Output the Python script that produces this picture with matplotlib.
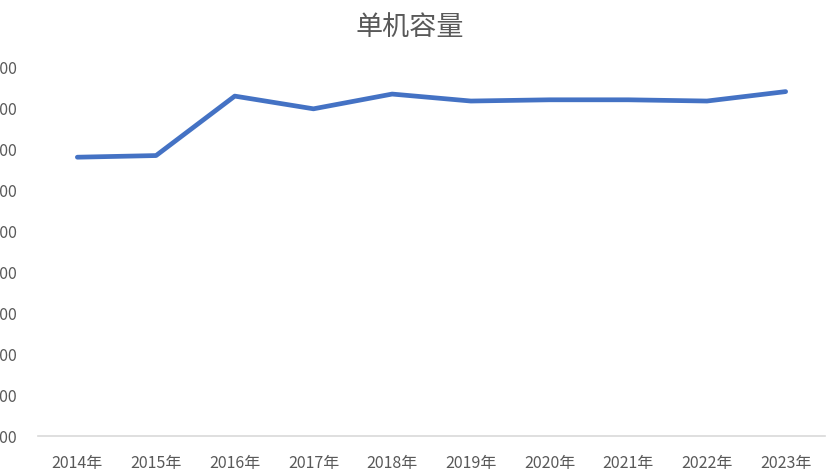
import matplotlib
matplotlib.use("Agg")
import matplotlib.pyplot as plt
from matplotlib.ticker import FormatStrFormatter

plt.rcParams['font.family'] = ['Noto Sans CJK SC', 'DejaVu Sans']

years = ['2014年', '2015年', '2016年', '2017年', '2018年',
         '2019年', '2020年', '2021年', '2022年', '2023年']
capacity = [6.80, 6.84, 8.29, 7.98, 8.34, 8.17, 8.20, 8.20, 8.17, 8.40]
yticks = [0, 1, 2, 3, 4, 5, 6, 7, 8, 9]

W, H = 834, 477
fig = plt.figure(figsize=(W / 100, H / 100), dpi=100)
ax = fig.add_axes([38 / W, 1 - 437 / H, (825 - 38) / W, (437 - 68) / H])

x = list(range(len(years)))
ax.plot(x, capacity, color='#4472C4', linewidth=3.4, solid_capstyle='round',
        solid_joinstyle='round')

ax.set_xlim(-0.5, len(years) - 0.5)
ax.set_ylim(0, 9)
ax.set_xticks(x)
ax.set_xticklabels(years)
ax.set_yticks(yticks)
ax.yaxis.set_major_formatter(FormatStrFormatter('%.2f'))

for s in ['top', 'right', 'left']:
    ax.spines[s].set_visible(False)
ax.spines['bottom'].set_color('#D9D9D9')
ax.spines['bottom'].set_linewidth(1.2)

ax.tick_params(axis='x', length=0, pad=13, labelsize=11.5, labelcolor='#595959')
ax.tick_params(axis='y', length=0, pad=15, labelsize=11.5, labelcolor='#595959')

fig.text(410 / W, 1 - 27 / H, '单机容量', ha='center', va='center',
         fontsize=19.5, color='#595959', fontweight='light')

fig.savefig('out.png', dpi=100)
